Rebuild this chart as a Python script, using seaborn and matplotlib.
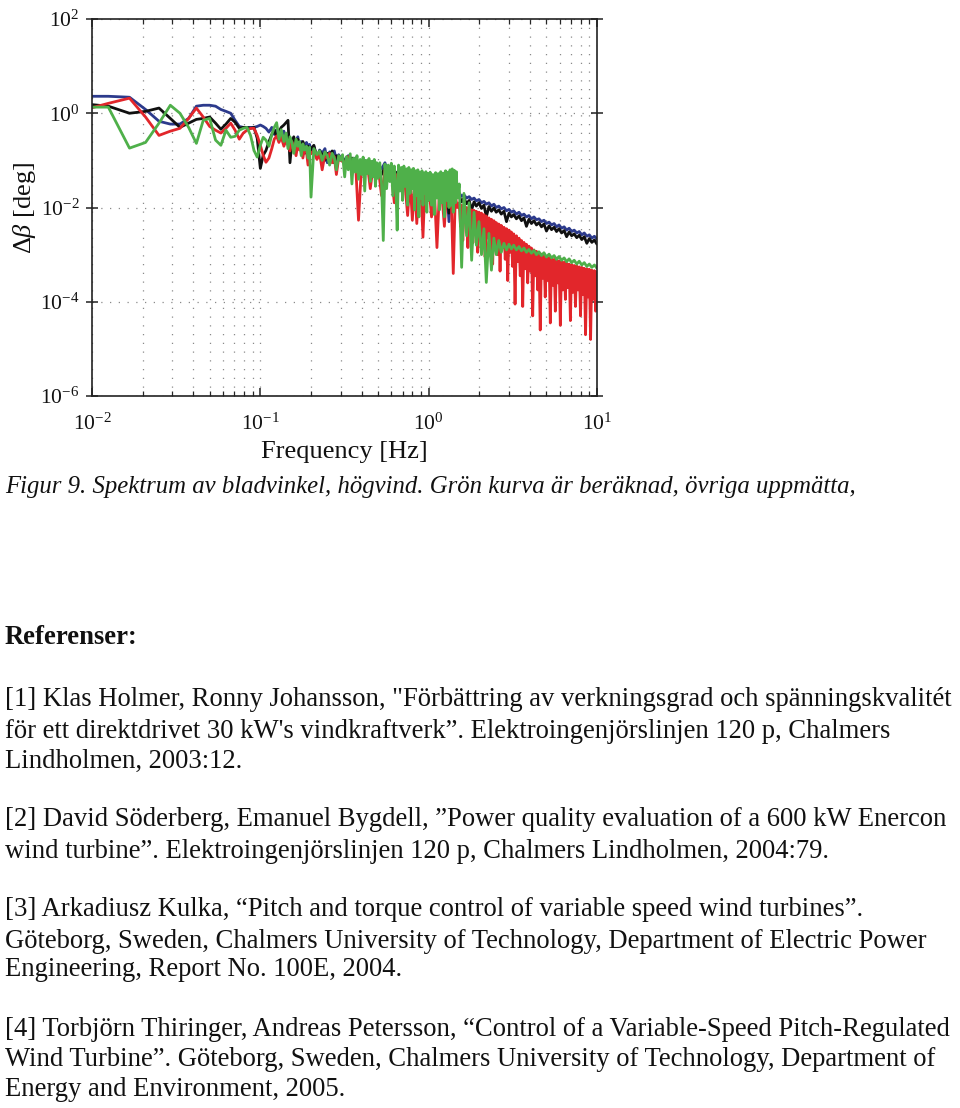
import numpy as np
import pandas as pd
import matplotlib
matplotlib.use("Agg")
import matplotlib.pyplot as plt
import matplotlib.ticker as mticker
import seaborn as sns

# ---------------- data (log10 of delta beta in deg) ----
FREQ_LOW = [0.0083, 0.0125, 0.0167, 0.0208, 0.025, 0.0292, 0.0333, 0.0375, 0.0417, 0.0458,
            0.05, 0.0542, 0.0583, 0.0625, 0.0667, 0.0708, 0.075, 0.0792, 0.0833, 0.0875,
            0.0917, 0.0958, 0.1, 0.104, 0.108]
FREQ_MID_A = [0.1125, 0.117, 0.121, 0.125, 0.129, 0.133, 0.138, 0.142, 0.146, 0.15,
              0.154, 0.158, 0.163, 0.167, 0.171, 0.175, 0.179, 0.183, 0.188, 0.192,
              0.196, 0.2, 0.208, 0.217, 0.225, 0.233, 0.242, 0.25, 0.258, 0.267,
              0.275, 0.283, 0.292, 0.3]
FREQ_MID_B = [0.317, 0.333, 0.35, 0.367, 0.383, 0.4, 0.417, 0.433, 0.45, 0.467, 0.483, 0.5,
              0.525, 0.55, 0.575, 0.6, 0.625, 0.65, 0.675, 0.7, 0.725, 0.75,
              0.775, 0.8, 0.825, 0.85, 0.875, 0.9, 0.925, 0.95, 0.975, 1.0,
              1.04, 1.08, 1.12, 1.16, 1.2, 1.24, 1.28, 1.32, 1.36, 1.4, 1.44, 1.48]
FREQ_MID_B_FINE = [0.308, 0.317, 0.325, 0.333, 0.342, 0.35, 0.358, 0.367, 0.375, 0.383,
                   0.392, 0.4, 0.408, 0.417, 0.425, 0.433, 0.442, 0.45, 0.458, 0.467,
                   0.475, 0.483, 0.492, 0.5,
                   0.5125, 0.525, 0.5375, 0.55, 0.5625, 0.575, 0.5875, 0.6, 0.6125, 0.625,
                   0.6375, 0.65, 0.6625, 0.675, 0.6875, 0.7, 0.7125, 0.725, 0.7375, 0.75,
                   0.7625, 0.775, 0.7875, 0.8, 0.8125, 0.825, 0.8375, 0.85, 0.8625, 0.875,
                   0.8875, 0.9, 0.9125, 0.925, 0.9375, 0.95, 0.9625, 0.975, 0.9875, 1.0,
                   1.02, 1.04, 1.06, 1.08, 1.1, 1.12, 1.14, 1.16, 1.18, 1.2,
                   1.22, 1.24, 1.26, 1.28, 1.3, 1.32, 1.34, 1.36, 1.38, 1.4,
                   1.42, 1.44, 1.46, 1.48]
FREQ_HIGH = [1.52, 1.57, 1.62, 1.68, 1.74, 1.8, 1.86, 1.92, 1.99, 2.06,
             2.13, 2.2, 2.28, 2.36, 2.44, 2.52, 2.61, 2.7, 2.8, 2.9,
             3.0, 3.1, 3.2, 3.32, 3.44, 3.56, 3.68, 3.81, 3.94, 4.08,
             4.22, 4.37, 4.52, 4.68, 4.84, 5.01, 5.19, 5.37, 5.56, 5.75,
             5.95, 6.16, 6.38, 6.6, 6.83, 7.07, 7.32, 7.58, 7.84, 8.12,
             8.4, 8.7, 9.0, 9.32, 9.65, 10.0]
FREQ_HIGH_FINE = [1.52, 1.545, 1.57, 1.595, 1.62, 1.65, 1.68, 1.71, 1.74, 1.77,
                  1.8, 1.83, 1.86, 1.89, 1.92, 1.955, 1.99, 2.025, 2.06, 2.095,
                  2.13, 2.165, 2.2, 2.24, 2.28, 2.32, 2.36, 2.4, 2.44, 2.48,
                  2.52, 2.565, 2.61, 2.655, 2.7, 2.75, 2.8, 2.85, 2.9, 2.95,
                  3.0, 3.05, 3.1, 3.15, 3.2, 3.26, 3.32, 3.38, 3.44, 3.5,
                  3.56, 3.62, 3.68, 3.745, 3.81, 3.875, 3.94, 4.01, 4.08, 4.15,
                  4.22, 4.295, 4.37, 4.445, 4.52, 4.6, 4.68, 4.76, 4.84, 4.925,
                  5.01, 5.1, 5.19, 5.28, 5.37, 5.465, 5.56, 5.655, 5.75, 5.85,
                  5.95, 6.055, 6.16, 6.27, 6.38, 6.49, 6.6, 6.715, 6.83, 6.95,
                  7.07, 7.195, 7.32, 7.45, 7.58, 7.71, 7.84, 7.98, 8.12, 8.26,
                  8.4, 8.55, 8.7, 8.85, 9.0, 9.16, 9.32, 9.485, 9.65, 9.82,
                  10.0]

BLUE_LOW = [0.36, 0.36, 0.34, 0.08, -0.17, -0.23, -0.23, -0.11, 0.15, 0.17,
            0.17, 0.15, 0.08, 0.04, 0.0, -0.15, -0.28, -0.30, -0.30, -0.30,
            -0.30, -0.28, -0.25, -0.28, -0.32]
BLUE_MID_A = [-0.40, -0.30, -0.45, -0.35, -0.55, -0.42, -0.38, -0.60, -0.48, -0.52,
              -0.70, -0.55, -0.62, -0.50, -0.75, -0.60, -0.68, -0.85, -0.62, -0.72,
              -0.66, -0.80, -0.70, -0.95, -0.78, -0.85, -0.75, -1.05, -0.82, -0.90,
              -0.80, -1.00, -0.88, -0.95]
BLUE_MID_B = [-0.98, -0.90, -1.10, -0.95, -1.05, -1.20, -1.00, -1.08, -1.15, -1.02,
              -1.25, -1.10, -1.18, -1.05, -1.30, -1.15, -1.22, -1.35, -1.20, -1.28,
              -1.40, -1.25, -1.33, -1.45, -1.30, -1.38, -1.50, -1.35, -1.42, -1.55,
              -1.40, -1.48, -1.60, -1.45, -1.52, -1.40, -1.70, -1.48, -1.55, -2.30,
              -1.38, -1.50, -1.58, -1.62]
BLUE_HIGH = [-1.70, -1.76, -1.73, -1.80, -1.77, -1.83, -1.80, -1.86, -1.83, -1.90,
             -1.87, -1.93, -1.90, -1.97, -1.93, -2.00, -1.97, -2.03, -2.00, -2.07,
             -2.04, -2.10, -2.07, -2.14, -2.10, -2.17, -2.14, -2.20, -2.17, -2.24,
             -2.20, -2.26, -2.24, -2.30, -2.27, -2.34, -2.31, -2.37, -2.34, -2.41,
             -2.37, -2.44, -2.41, -2.48, -2.44, -2.51, -2.48, -2.54, -2.51, -2.58,
             -2.54, -2.61, -2.58, -2.65, -2.61, -2.67]

BLACK_LOW = [0.21, 0.15, 0.0, 0.04, 0.11, -0.11, -0.30, -0.21, -0.13, -0.11,
             -0.08, -0.21, -0.34, -0.23, -0.11, -0.19, -0.32, -0.30, -0.30, -0.32,
             -0.30, -0.53, -1.17, -0.89, -0.79]
BLACK_MID_A = [-0.60, -0.45, -0.35, -0.50, -0.40, -0.30, -0.25, -0.20, -0.15, -1.05,
               -0.60, -0.50, -0.70, -0.55, -0.65, -0.80, -0.60, -0.72, -0.85, -0.70,
               -0.90, -0.75, -0.68, -0.95, -0.80, -0.88, -1.00, -0.85, -0.92, -0.80,
               -1.05, -0.90, -0.98, -0.95]
BLACK_MID_B = [-1.00, -1.12, -0.95, -1.05, -1.18, -1.02, -1.10, -1.25, -1.08, -1.15,
               -1.05, -1.22, -1.30, -1.15, -1.20, -1.35, -1.22, -1.28, -1.40, -1.25,
               -1.33, -1.45, -1.30, -1.38, -1.42, -1.50, -1.36, -1.45, -1.55, -1.40,
               -1.48, -1.60, -1.45, -1.52, -1.65, -1.50, -1.58, -1.48, -1.55, -2.12,
               -1.50, -1.42, -1.55, -1.65]
BLACK_HIGH = [-1.76, -1.88, -1.80, -1.92, -1.85, -2.05, -1.88, -1.97, -1.90, -2.02,
              -1.95, -2.20, -1.98, -2.08, -2.01, -2.10, -2.05, -2.14, -2.08, -2.30,
              -2.12, -2.20, -2.15, -2.24, -2.18, -2.28, -2.22, -2.40, -2.25, -2.34,
              -2.28, -2.37, -2.32, -2.41, -2.35, -2.50, -2.39, -2.47, -2.42, -2.51,
              -2.45, -2.54, -2.49, -2.62, -2.52, -2.60, -2.56, -2.64, -2.59, -2.68,
              -2.62, -2.76, -2.66, -2.74, -2.69, -2.78]

RED_LOW = [0.04, 0.21, 0.32, -0.08, -0.47, -0.38, -0.32, -0.11, 0.11, -0.08,
           -0.28, -0.36, -0.42, -0.32, -0.21, -0.36, -0.55, -0.42, -0.36, -0.32,
           -0.32, -0.47, -0.68, -0.89, -1.04]
RED_MID_A = [-0.95, -0.75, -0.55, -0.48, -0.62, -0.50, -0.70, -0.58, -0.66, -0.80,
             -0.60, -0.72, -0.90, -0.65, -0.78, -0.70, -0.95, -0.74, -0.82, -1.10,
             -0.78, -0.86, -0.80, -0.98, -0.85, -1.20, -0.88, -0.95, -0.85, -1.05,
             -0.92, -1.30, -0.95, -1.00]
RED_MID_B = [-1.05, -0.92, -1.15, -1.00, -2.27, -1.05, -1.20, -1.10, -1.60, -1.15,
             -1.30, -1.12, -1.75, -1.20, -1.35, -1.25, -1.90, -1.30, -1.45, -1.35,
             -1.55, -2.17, -1.40, -2.27, -1.45, -2.34, -1.50, -1.65, -2.63, -1.55,
             -1.70, -1.50, -2.20, -1.60, -2.85, -1.60, -1.75, -2.40, -1.65, -1.80,
             -1.70, -3.40, -1.75, -2.00]
RED_HIGH_FINE = [-1.90, -2.40, -1.95, -2.70, -1.98, -2.30, -2.00, -2.85, -2.02, -2.50,
                 -2.05, -2.75, -2.06, -2.45, -2.08, -2.95, -2.10, -2.60, -2.12, -2.80,
                 -2.15, -3.05, -2.18, -2.65, -2.22, -2.90, -2.25, -3.20, -2.28, -2.75,
                 -2.32, -3.00, -2.35, -3.35, -2.38, -2.85, -2.42, -3.10, -2.45, -3.55,
                 -2.48, -2.95, -2.52, -3.25, -2.56, -4.05, -2.60, -3.15, -2.65, -3.45,
                 -2.70, -4.10, -2.74, -3.30, -2.78, -3.60, -2.82, -3.35, -2.86, -4.30,
                 -2.90, -3.45, -2.93, -3.75, -2.96, -4.60, -2.99, -3.50, -3.02, -3.90,
                 -3.04, -3.55, -3.06, -4.45, -3.08, -3.65, -3.10, -4.20, -3.12, -3.60,
                 -3.13, -4.50, -3.15, -3.75, -3.16, -3.95, -3.18, -3.70, -3.20, -4.40,
                 -3.21, -3.80, -3.23, -4.10, -3.24, -3.75, -3.26, -4.30, -3.27, -3.85,
                 -3.29, -4.70, -3.30, -3.90, -3.31, -4.80, -3.33, -3.95, -3.34, -4.20,
                 -3.36]

GREEN_LOW = [0.13, 0.13, -0.74, -0.62, -0.21, 0.17, 0.0, -0.30, -0.64, -0.15,
             -0.11, -0.57, -0.68, -0.36, -0.51, -0.49, -0.36, -0.32, -0.30, -0.47,
             -0.79, -0.93, -0.68, -0.51, -0.57]
GREEN_MID_A = [-0.70, -0.45, -0.30, -0.20, -0.55, -0.35, -0.60, -0.42, -0.75, -0.50,
               -0.62, -0.85, -0.55, -0.70, -0.60, -0.90, -0.65, -0.78, -0.70, -0.95,
               -0.72, -1.78, -0.75, -0.88, -0.80, -1.00, -0.82, -0.90, -1.10, -0.85,
               -0.95, -1.20, -0.90, -1.00]
GREEN_MID_B_FINE = [-0.88, -1.35, -0.92, -1.20, -0.86, -1.50, -0.95, -1.25, -0.90, -1.40,
                    -0.98, -1.30, -0.93, -1.65, -1.00, -1.28, -0.96, -1.45, -1.02, -1.35,
                    -0.98, -1.55, -1.05, -1.38,
                    -1.05, -1.50, -2.70, -1.08, -1.60, -1.10, -1.45, -1.06, -1.75, -1.12,
                    -1.50, -2.48, -1.10, -1.65, -1.15, -1.85, -1.12, -1.55, -1.18, -1.95,
                    -1.15, -1.70, -1.20, -1.60, -1.17, -2.05, -1.22, -1.75, -1.20, -2.20,
                    -1.25, -1.80, -1.22, -1.95, -1.27, -1.70, -1.24, -2.10, -1.28, -1.85,
                    -1.25, -1.95, -1.30, -2.15, -1.26, -1.80, -1.28, -2.05, -1.24, -1.90,
                    -1.27, -2.20, -1.22, -1.85, -1.25, -2.00, -1.20, -1.95, -1.18, -2.10,
                    -1.21, -1.90, -1.24, -1.80]
GREEN_HIGH = [-1.50, -3.27, -1.70, -2.60, -1.90, -3.12, -2.10, -2.80, -2.30, -3.00,
              -2.45, -3.59, -2.55, -3.33, -2.65, -3.00, -2.70, -2.95, -2.76, -2.90,
              -2.78, -2.88, -2.80, -2.90, -2.83, -2.92, -2.86, -2.95, -2.89, -2.97,
              -2.91, -3.00, -2.94, -3.02, -2.96, -3.05, -2.99, -3.07, -3.02, -3.10,
              -3.04, -3.12, -3.07, -3.15, -3.09, -3.17, -3.12, -3.20, -3.14, -3.22,
              -3.17, -3.25, -3.20, -3.27, -3.22, -3.29]

SERIES = ["blue", "black", "red", "green"]
COLORS = {"blue": "#2c3a8c", "black": "#101010", "red": "#e2262b", "green": "#4fb04a"}

X_TICKS = [0.01, 0.1, 1, 10]
Y_TICKS = [1e-6, 1e-4, 1e-2, 1e0, 1e2]

CAPTION = "Figur 9. Spektrum av bladvinkel, högvind. Grön kurva är beräknad, övriga uppmätta,"
HEADING = "Referenser:"
REF_LINES = [
    "[1] Klas Holmer, Ronny Johansson, \"Förbättring av verkningsgrad och spänningskvalitét",
    "för ett direktdrivet 30 kW's vindkraftverk\u201d. Elektroingenjörslinjen 120 p, Chalmers",
    "Lindholmen, 2003:12.",
    "[2] David Söderberg, Emanuel Bygdell, \u201dPower quality evaluation of a 600 kW Enercon",
    "wind turbine\u201d. Elektroingenjörslinjen 120 p, Chalmers Lindholmen, 2004:79.",
    "[3] Arkadiusz Kulka, \u201cPitch and torque control of variable speed wind turbines\u201d.",
    "Göteborg, Sweden, Chalmers University of Technology, Department of Electric Power",
    "Engineering, Report No. 100E, 2004.",
    "[4] Torbjörn Thiringer, Andreas Petersson, \u201cControl of a Variable-Speed Pitch-Regulated",
    "Wind Turbine\u201d. Göteborg, Sweden, Chalmers University of Technology, Department of",
    "Energy and Environment, 2005.",
]
REF_Y = [700, 731, 761, 820, 851, 910, 941, 970, 1030, 1060, 1090]

# ---------------- build table ----------------
series_data = {
    "blue": (FREQ_LOW + FREQ_MID_A + FREQ_MID_B + FREQ_HIGH,
             BLUE_LOW + BLUE_MID_A + BLUE_MID_B + BLUE_HIGH),
    "black": (FREQ_LOW + FREQ_MID_A + FREQ_MID_B + FREQ_HIGH,
              BLACK_LOW + BLACK_MID_A + BLACK_MID_B + BLACK_HIGH),
    "red": (FREQ_LOW + FREQ_MID_A + FREQ_MID_B + FREQ_HIGH_FINE,
            RED_LOW + RED_MID_A + RED_MID_B + RED_HIGH_FINE),
    "green": (FREQ_LOW + FREQ_MID_A + FREQ_MID_B_FINE + FREQ_HIGH,
              GREEN_LOW + GREEN_MID_A + GREEN_MID_B_FINE + GREEN_HIGH),
}
frames = []
for name in SERIES:
    f, v = series_data[name]
    n = min(len(f), len(v))
    frames.append(pd.DataFrame({
        "freq": f[:n],
        "delta_beta": 10.0 ** np.array(v[:n]),
        "series": name,
    }))
df = pd.concat(frames, ignore_index=True)

# ---------------- style ----------------
sns.set_theme(style="ticks")
plt.rcParams["font.family"] = ["Liberation Serif", "DejaVu Serif"]
plt.rcParams["mathtext.fontset"] = "custom"
plt.rcParams["mathtext.rm"] = "Liberation Serif"
plt.rcParams["mathtext.it"] = "Liberation Serif:italic"
plt.rcParams["mathtext.bf"] = "Liberation Serif:bold"
plt.rcParams["axes.edgecolor"] = "#222222"

W, H = 960, 1108
fig = plt.figure(figsize=(W / 100, H / 100), dpi=100)
fig.patch.set_facecolor("white")
L, R, T, B = 92, 597, 19, 396
ax = fig.add_axes([L / W, 1 - B / H, (R - L) / W, (B - T) / H])
ax.set_xscale("log")
ax.set_yscale("log")

sns.lineplot(data=df, x="freq", y="delta_beta", hue="series", hue_order=SERIES,
             palette=COLORS, estimator=None, sort=False, legend=False,
             linewidth=2.0, ax=ax)

ax.set_xlim(0.01, 10)
ax.set_ylim(1e-6, 1e2)

ax.xaxis.set_major_locator(mticker.FixedLocator(X_TICKS))
ax.xaxis.set_minor_locator(mticker.LogLocator(base=10, subs=np.arange(2, 10), numticks=20))
ax.xaxis.set_minor_formatter(mticker.NullFormatter())
ax.xaxis.set_major_formatter(mticker.LogFormatterMathtext())
ax.yaxis.set_major_locator(mticker.FixedLocator(Y_TICKS))
ax.yaxis.set_minor_locator(mticker.NullLocator())
ax.yaxis.set_major_formatter(mticker.LogFormatterMathtext())

dot = (0, (1, 6))
ax.grid(True, axis="x", which="both", linestyle=dot, color="#8a8a8a", linewidth=0.9)
ax.grid(True, axis="y", which="major", linestyle=dot, color="#8a8a8a", linewidth=0.9)
ax.set_axisbelow(True)

for s in ax.spines.values():
    s.set_linewidth(1.2)
    s.set_color("#222222")

ax.tick_params(axis="x", which="major", direction="in", length=6, width=1.1,
               top=True, bottom=True, labelsize=15.5, pad=13, colors="#222222",
               labelcolor="#111111")
ax.tick_params(axis="x", which="minor", direction="in", length=3.5, width=0.9,
               top=True, bottom=True)
ax.tick_params(axis="y", which="major", direction="inout", length=8, width=1.1,
               left=True, right=True, labelsize=15.5, pad=5, colors="#222222",
               labelcolor="#111111")

ax.set_xlabel("Frequency [Hz]", fontsize=19, color="#111111")
ax.xaxis.set_label_coords(0.5, -(452 - B) / (B - T))
ax.xaxis.label.set_verticalalignment("center")
ax.set_ylabel(r"$\mathit{\Delta\beta}$ [deg]", fontsize=19, color="#111111")
ax.yaxis.set_label_coords(-(L - 25) / (R - L), 0.5)
ax.yaxis.label.set_verticalalignment("center")

# ---------------- text below chart ----------------
def fy(y):
    return 1 - y / H

fig.text(5 / W, fy(487), CAPTION, fontsize=17.8, style="italic", ha="left", va="center",
         color="#111111")
fig.text(5 / W, fy(638), HEADING, fontsize=19.2, weight="bold", ha="left", va="center",
         color="#111111")
for line, y in zip(REF_LINES, REF_Y):
    fig.text(5 / W, fy(y), line, fontsize=19.2, ha="left", va="center", color="#111111")

fig.savefig("out.png", dpi=100, facecolor="white")
